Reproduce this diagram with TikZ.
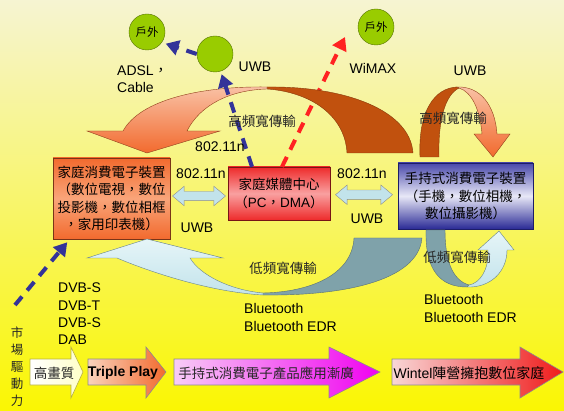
\documentclass[tikz,border=0pt]{standalone}
\usepackage{fontspec}
\setmainfont{Liberation Sans}
\newfontfamily\zh{Noto Sans CJK TC}
\usetikzlibrary{arrows.meta,shapes.arrows,calc}
\definecolor{hmbgtop}{HTML}{F6F4D2}
\definecolor{hmbgbot}{HTML}{FAF602}
\definecolor{hmorange}{HTML}{F26A2E}
\definecolor{hmorangelt}{HTML}{F9A57A}
\definecolor{hmred}{HTML}{EE2B2B}
\definecolor{hmredlt}{HTML}{F9A0A0}
\definecolor{hmblue}{HTML}{4848AA}
\definecolor{hmbluelt}{HTML}{E8E8F7}
\definecolor{hmbluedk}{HTML}{2A2A95}
\definecolor{hmgreen}{HTML}{99CC00}
\definecolor{hmnavy}{HTML}{333399}
\definecolor{hmredline}{HTML}{FF2222}
\definecolor{hmbrown}{HTML}{C1510E}
\definecolor{hmsalmon}{HTML}{F9C2A6}
\definecolor{hmslate}{HTML}{7FA2AA}
\definecolor{hmcyan}{HTML}{C2E3EB}
\definecolor{hmcyanlt}{HTML}{E6F5F8}
\definecolor{hmolive}{HTML}{B8B040}
\definecolor{hmcream}{HTML}{FFFFC8}
\definecolor{hmpeach}{HTML}{F9D2BC}
\definecolor{hmpink}{HTML}{F8CCF6}
\definecolor{hmmagenta}{HTML}{F000F0}
\definecolor{hmrose}{HTML}{F8D6D6}
\definecolor{hmredarr}{HTML}{F01A1A}
\tikzset{
  devbox/.style={rectangle, inner sep=2pt, align=center, font=\zh\fontsize{13.5}{17.5}\selectfont},
  circ/.style={circle, draw=hmgreen!55!black, fill=hmgreen, minimum size=36pt, inner sep=0pt, font=\zh\fontsize{11.5}{12}\selectfont},
  lbl/.style={inner sep=0pt, font=\fontsize{14}{17.3}\selectfont},
  zhlbl/.style={inner sep=0pt, font=\zh\fontsize{13.5}{17}\selectfont, text=black!85},
  linkarrow/.style={double arrow, draw=black!45, fill=hmcyan, inner xsep=0pt, inner ysep=4.5pt, double arrow head extend=5pt, double arrow tip angle=80},
  bluedash/.style={draw=hmnavy, line width=4pt, dash pattern=on 11pt off 8pt, -{Triangle[width=15pt,length=13pt]}},
  reddash/.style={draw=hmredline, line width=4pt, dash pattern=on 11pt off 8pt, -{Triangle[width=15pt,length=13pt]}},
  blockarr/.style={line width=0.6pt},
  bandedge/.style={line width=0.4pt}
}
\begin{document}
\begin{tikzpicture}[x=1pt,y=-1pt]
\useasboundingbox (0,0) rectangle (564,411);
\shade[top color=hmbgtop, bottom color=hmbgbot] (0,0) rectangle (564,411);

% devices
\node[devbox, top color=hmorange, bottom color=hmorange, middle color=hmorangelt, draw=hmorange!50!black, minimum width=117pt, minimum height=81pt] (home) at (111.5,198.5) {家庭消費電子裝置\\（數位電視，數位\\投影機，數位相框\\，家用印表機）};
\node[devbox, top color=hmred, bottom color=hmred, middle color=hmredlt, draw=hmred!50!black, minimum width=102pt, minimum height=53pt] (media) at (279,193.5) {家庭媒體中心\\（{\rmfamily PC}，{\rmfamily DMA}）};
\node[devbox, top color=hmblue, bottom color=hmbluedk, middle color=hmbluelt, draw=hmbluedk!70!black, minimum width=135pt, minimum height=66pt] (hand) at (465.5,196) {手持式消費電子裝置\\（手機，數位相機，\\數位攝影機）};

\node[linkarrow, minimum height=53pt] (lnkhome) at ($(home.east)!0.5!(media.west)$) {};
\node[linkarrow, minimum height=57pt] (lnkhand) at ($(media.east)!0.5!(hand.west)$) {};

% outside links
\node[circ] (out1) at (147,32) {戶外};
\node[circ] (wan) at (215,54) {};
\node[circ] (out2) at (376,27) {戶外};
\coordinate (wimaxend) at (345,37);
\draw[reddash] ([xshift=3pt]media.north) -- (wimaxend);

% wide bands
\fill[hmbrown, draw=hmbrown!70!black, bandedge] (413,153) .. controls (410,110) and (345,86) .. (267,87) -- (267,89) .. controls (310,92) and (345,115) .. (347,153) -- cycle;
\shade[top color=hmsalmon, bottom color=hmorange, draw=hmorange!60!black, bandedge] (267,87) .. controls (200,86) and (140,100) .. (123,131) -- (87,131) -- (147,153) -- (220,131) -- (187,131) .. controls (200,105) and (230,90) .. (267,89) -- cycle;
\fill[hmslate, draw=hmslate!70!black, bandedge] (422,238) .. controls (418,282) and (340,296) .. (263,295) -- (263,293) .. controls (310,292) and (352,275) .. (354,238) -- cycle;
\shade[top color=hmcyanlt, bottom color=hmcyan, draw=hmslate!80!black, bandedge] (263,295) .. controls (210,292) and (150,272) .. (117,258) -- (87,258) -- (147,239) -- (223,258) -- (190,258) .. controls (200,275) and (230,290) .. (263,293) -- cycle;
% small bands at the handheld box
\fill[hmbrown, draw=hmbrown!70!black, bandedge] (420,157) .. controls (418,110) and (435,88) .. (457,87) -- (459,88) .. controls (445,95) and (438,120) .. (439,157) -- cycle;
\shade[top color=hmsalmon, bottom color=hmorange, draw=hmorange!60!black, bandedge] (457,87) .. controls (480,86) and (495,105) .. (497,134) -- (510,134) -- (493,157) -- (474,134) -- (482,134) .. controls (480,110) and (472,92) .. (459,88) -- cycle;
\fill[hmslate, draw=hmslate!70!black, bandedge] (426,230) .. controls (425,270) and (440,287) .. (467,287) -- (469,285) .. controls (452,280) and (445,260) .. (445,230) -- cycle;
\shade[top color=hmcyanlt, bottom color=hmcyan, draw=hmslate!80!black, bandedge] (467,287) .. controls (490,288) and (507,272) .. (507,250) -- (514,250) -- (499,231) -- (478,250) -- (488,250) .. controls (489,270) and (480,283) .. (469,285) -- cycle;

\draw[bluedash, shorten >=3pt] ([xshift=-27pt]media.north) -- (wan);
\draw[bluedash, shorten >=4pt] (wan.west) -- (out1.-35);
\coordinate (mktstart) at (15,305);
\draw[bluedash, shorten >=4pt] (mktstart) -- ([xshift=17pt]home.south west);

% labels
\node[lbl, align=left, anchor=west] (adsl) at (117,79.5) {ADSL{\zh ，}\\Cable};
\node[lbl] (uwbtop) at (255,67) {UWB};
\node[lbl] (wimax) at (373,68) {WiMAX};
\node[lbl] (uwbhand) at (470,71) {UWB};
\node[zhlbl] (hiband) at (262,121) {高頻寬傳輸};
\node[zhlbl] (hibandhand) at (453,118) {高頻寬傳輸};
\node[lbl] (wifitop) at (220,147) {802.11n};
\node[lbl] (wifihome) at (201,174) {802.11n};
\node[lbl] (uwbhome) at (197,228) {UWB};
\node[lbl] (wifihand) at (362,174) {802.11n};
\node[lbl] (uwbmid) at (367,219) {UWB};
\node[zhlbl] (loband) at (283,268) {低頻寬傳輸};
\node[zhlbl] (lobandhand) at (457,257) {低頻寬傳輸};
\node[lbl, align=left, anchor=west] (btmid) at (244,317.5) {Bluetooth\\Bluetooth EDR};
\node[lbl, align=left, anchor=west] (bthand) at (424,308.5) {Bluetooth\\Bluetooth EDR};
\node[lbl, align=left, anchor=west] (dvb) at (58,314) {DVB-S\\DVB-T\\DVB-S\\DAB};
\node[zhlbl, align=center, font=\zh\fontsize{12.5}{17}\selectfont] (mkt) at (17,367) {市\\場\\驅\\動\\力};

% market stages
\shade[blockarr, draw=hmolive, left color=white, right color=hmcream] (30,359) -- (71,359) -- (71,347) -- (83,372) -- (71,398) -- (71,385) -- (30,385) -- cycle;
\shade[blockarr, draw=black!45, left color=hmpeach, right color=hmorange] (88,359) -- (146,359) -- (146,347) -- (166,372) -- (146,398) -- (146,385) -- (88,385) -- cycle;
\shade[blockarr, draw=black!45, left color=hmpink, right color=hmmagenta] (174,359) -- (329,359) -- (329,347) -- (380,372) -- (329,398) -- (329,385) -- (174,385) -- cycle;
\shade[blockarr, draw=black!45, left color=hmrose, right color=hmredarr] (392,359) -- (520,359) -- (520,347) -- (563,372) -- (520,398) -- (520,385) -- (392,385) -- cycle;
\node[zhlbl] (hq) at (54,373) {高畫質};
\node[lbl, font=\bfseries\fontsize{14}{17}\selectfont] (tp) at (123,373) {Triple Play};
\node[zhlbl] (handuse) at (266,373) {手持式消費電子產品應用漸廣};
\node[lbl] (wintel) at (469,373) {Wintel{\zh 陣營擁抱數位家庭}};
\end{tikzpicture}
\end{document}
